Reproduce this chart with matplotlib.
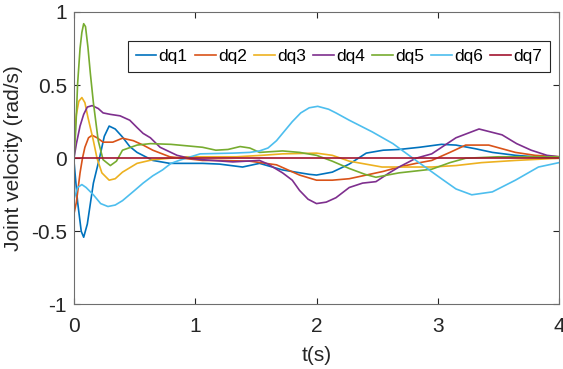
import matplotlib
matplotlib.use('Agg')
import matplotlib.pyplot as plt

plt.rcParams['font.family'] = ['Liberation Sans', 'DejaVu Sans']
plt.rcParams['axes.unicode_minus'] = False

# joint velocities (t in s, v in rad/s)
t1 = [0, 0.03, 0.06, 0.08, 0.11, 0.16, 0.21, 0.25, 0.29, 0.34, 0.40, 0.46, 0.52, 0.65, 0.79, 0.9,
      1.06, 1.2, 1.39, 1.53, 1.72, 1.94, 2.0, 2.13, 2.27, 2.41, 2.55, 2.68, 2.85, 3.03, 3.15, 3.31,
      3.45, 3.64, 3.8, 4.0]
dq1 = [-0.02, -0.3, -0.5, -0.54, -0.45, -0.17, 0.0, 0.15, 0.22, 0.2, 0.145, 0.08, 0.04, -0.015,
       -0.035, -0.035, -0.035, -0.04, -0.06, -0.035, -0.08, -0.11, -0.115, -0.095, -0.04, 0.035,
       0.055, 0.06, 0.075, 0.095, 0.09, 0.065, 0.04, 0.02, 0.01, 0.005]

t2 = [0, 0.02, 0.05, 0.07, 0.09, 0.12, 0.15, 0.19, 0.24, 0.32, 0.40, 0.49, 0.57, 0.65, 0.79, 1.06,
      1.2, 1.45, 1.67, 1.86, 2.0, 2.13, 2.27, 2.41, 2.55, 2.68, 2.82, 2.95, 3.1, 3.23, 3.42, 3.64,
      3.8, 4.0]
dq2 = [-0.38, -0.3, -0.1, 0.0, 0.075, 0.14, 0.157, 0.14, 0.11, 0.11, 0.137, 0.12, 0.09, 0.055,
       0.01, -0.015, -0.015, -0.02, -0.045, -0.115, -0.15, -0.15, -0.14, -0.115, -0.09, -0.06,
       -0.035, -0.015, 0.04, 0.09, 0.09, 0.04, 0.02, 0.01]

t3 = [0, 0.02, 0.04, 0.065, 0.09, 0.115, 0.16, 0.19, 0.23, 0.29, 0.34, 0.4, 0.52, 0.65, 0.93,
      1.34, 1.55, 1.72, 2.0, 2.13, 2.27, 2.54, 2.95, 3.15, 3.36, 3.64, 4.0]
dq3 = [0.15, 0.3, 0.39, 0.415, 0.38, 0.28, 0.12, 0.0, -0.1, -0.15, -0.14, -0.095, -0.035, -0.01,
       0.01, 0.01, 0.02, 0.03, 0.035, 0.02, -0.02, -0.06, -0.06, -0.05, -0.03, -0.015, 0.0]

t4 = [0, 0.02, 0.05, 0.08, 0.11, 0.15, 0.2, 0.24, 0.3, 0.38, 0.46, 0.52, 0.57, 0.63, 0.71, 0.85,
      0.95, 1.06, 1.31, 1.53, 1.6, 1.72, 1.8, 1.86, 1.93, 2.0, 2.08, 2.16, 2.27, 2.38, 2.49, 2.6,
      2.68, 2.82, 2.95, 3.15, 3.34, 3.53, 3.65, 3.77, 3.9, 4.0]
dq4 = [0.0, 0.1, 0.22, 0.3, 0.35, 0.36, 0.34, 0.31, 0.3, 0.29, 0.26, 0.21, 0.17, 0.14, 0.075,
       0.02, 0.0, -0.01, -0.025, -0.015, -0.04, -0.1, -0.15, -0.22, -0.28, -0.31, -0.3, -0.27,
       -0.2, -0.17, -0.16, -0.1, -0.06, 0.0, 0.03, 0.14, 0.2, 0.16, 0.1, 0.055, 0.02, 0.01]

t5 = [0, 0.015, 0.03, 0.05, 0.065, 0.08, 0.095, 0.115, 0.135, 0.16, 0.2, 0.24, 0.3, 0.35, 0.4,
      0.52, 0.63, 0.8, 1.06, 1.17, 1.27, 1.37, 1.45, 1.53, 1.72, 1.86, 2.0, 2.13, 2.27, 2.4, 2.49,
      2.68, 2.95, 3.1, 3.23, 3.5, 3.75, 4.0]
dq5 = [0.0, 0.2, 0.51, 0.75, 0.86, 0.92, 0.9, 0.76, 0.58, 0.38, 0.12, -0.01, -0.05, -0.02, 0.055,
       0.09, 0.1, 0.095, 0.075, 0.055, 0.06, 0.08, 0.07, 0.04, 0.05, 0.04, 0.02, -0.02, -0.07,
       -0.11, -0.13, -0.1, -0.075, -0.03, 0.0, 0.01, 0.01, 0.01]

t6 = [0, 0.03, 0.065, 0.1, 0.16, 0.22, 0.28, 0.34, 0.4, 0.5, 0.57, 0.65, 0.73, 0.8, 0.87, 1.04,
      1.31, 1.45, 1.53, 1.6, 1.67, 1.73, 1.8, 1.87, 1.94, 2.01, 2.1, 2.16, 2.27, 2.46, 2.63, 2.82,
      3.03, 3.15, 3.28, 3.45, 3.64, 3.83, 4.0]
dq6 = [-0.28, -0.2, -0.18, -0.2, -0.25, -0.31, -0.33, -0.32, -0.29, -0.22, -0.17, -0.12, -0.08,
       -0.035, -0.014, 0.03, 0.035, 0.04, 0.05, 0.07, 0.12, 0.18, 0.25, 0.31, 0.345, 0.355, 0.335,
       0.31, 0.26, 0.18, 0.1, -0.015, -0.14, -0.21, -0.25, -0.23, -0.15, -0.06, -0.03]

t7 = [0, 4.0]
dq7 = [0.0, 0.0]

series = [
    ('dq1', t1, dq1, '#0072BD'),
    ('dq2', t2, dq2, '#D95319'),
    ('dq3', t3, dq3, '#EDB120'),
    ('dq4', t4, dq4, '#7E2F8E'),
    ('dq5', t5, dq5, '#77AC30'),
    ('dq6', t6, dq6, '#4DBEEE'),
    ('dq7', t7, dq7, '#A2142F'),
]

fig = plt.figure(figsize=(5.63, 3.69), dpi=100)
ax = fig.add_axes([0.1314, 0.1748, 0.8616, 0.7927])

for name, t, v, c in series:
    ax.plot(t, v, color=c, linewidth=1.2, label=name)

ax.set_xlim(0, 4)
ax.set_ylim(-1, 1)
ax.set_xticks([0, 1, 2, 3, 4])
ax.set_yticks([-1, -0.5, 0, 0.5, 1])
ax.set_yticklabels(['-1', '-0.5', '0', '0.5', '1'])
ax.tick_params(direction='in', top=True, right=True, labelsize=15, colors='#262626',
               length=4, width=0.8, pad=5)
ax.tick_params(axis='x', pad=9)
for s in ax.spines.values():
    s.set_color('#6e6e6e')
    s.set_linewidth(0.8)

ax.set_xlabel('t(s)', fontsize=15, color='#262626', labelpad=7)
ax.set_ylabel('Joint velocity (rad/s)', fontsize=15, color='#262626', labelpad=6)

leg = ax.legend(ncol=7, loc='upper left', bbox_to_anchor=(0.111, 0.901), fontsize=12.5,
                handlelength=1.2, handletextpad=0.12, columnspacing=0.42,
                borderpad=0.45, borderaxespad=0, fancybox=False, framealpha=1)
leg.get_frame().set_edgecolor('#262626')
leg.get_frame().set_linewidth(0.8)

fig.savefig('out.png', dpi=100)
